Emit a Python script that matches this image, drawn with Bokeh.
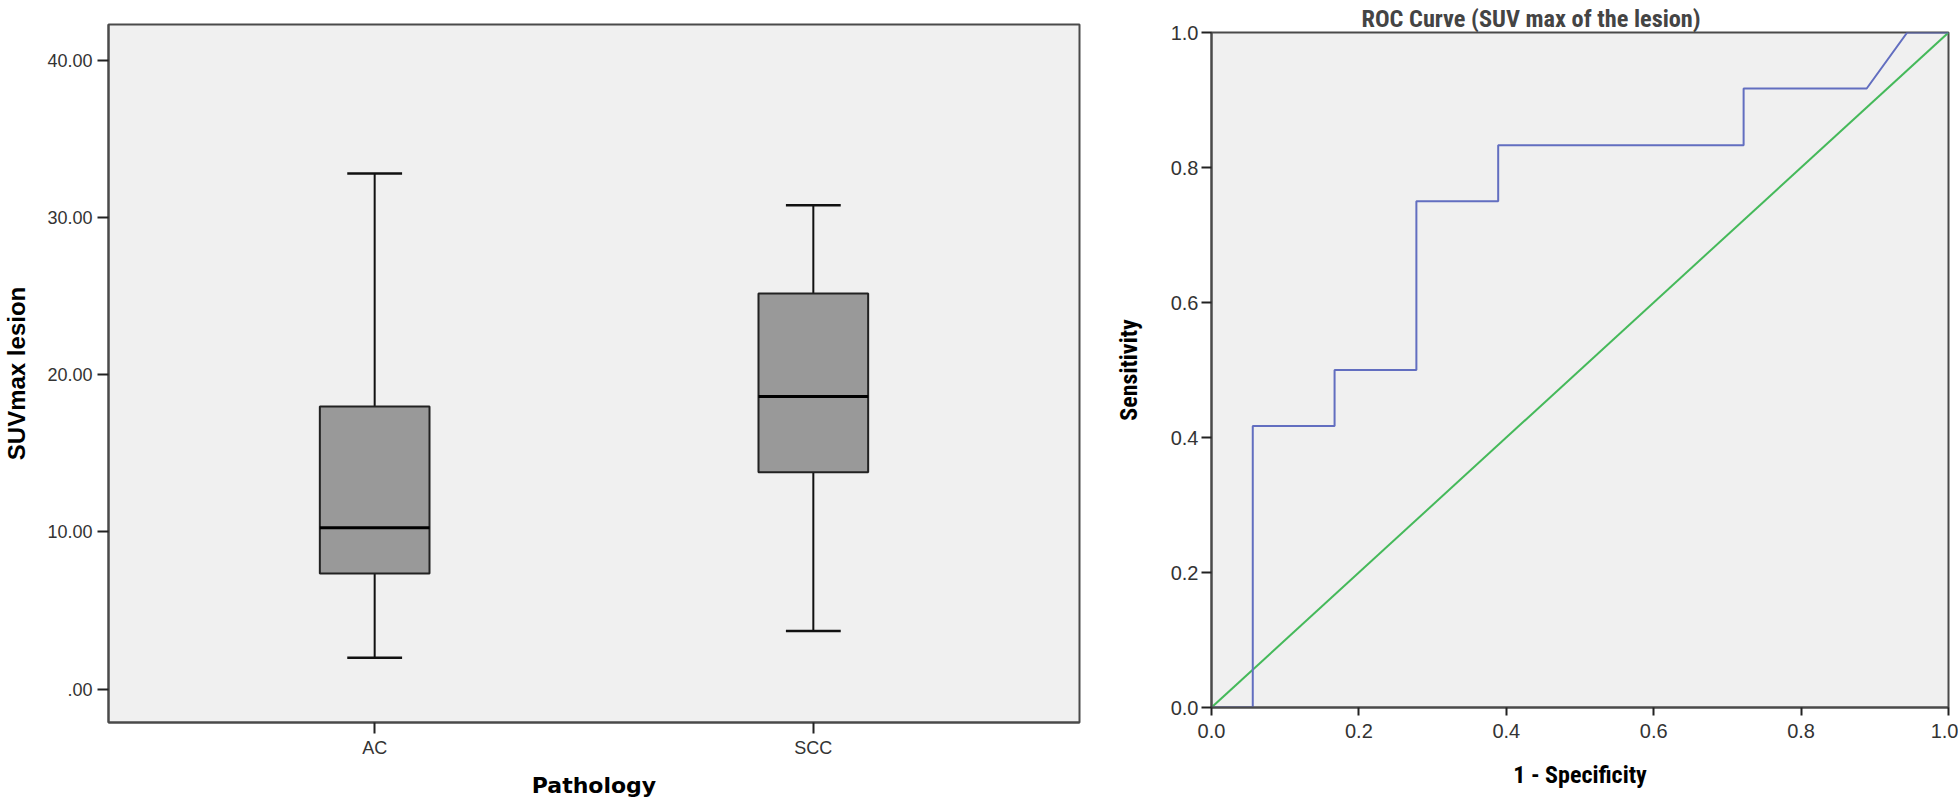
import numpy as np
from bokeh.plotting import figure
from bokeh.models import Range1d, FixedTicker, PrintfTickFormatter
from bokeh.embed import file_html
from bokeh.resources import INLINE

# ---------------- data ----------------
categories = ["AC", "SCC"]
whisker_low = [2.0, 3.7]
q1 = [7.35, 13.8]
median = [10.27, 18.62]
q3 = [17.97, 25.17]
whisker_high = [32.8, 30.77]
y_ticks = [0, 10, 20, 30, 40]
y_tick_labels = [".00", "10.00", "20.00", "30.00", "40.00"]

roc_fpr = [0.0, 0.056, 0.056, 0.167, 0.167, 0.278, 0.278, 0.389, 0.389, 0.722, 0.722, 0.889, 0.944, 1.0]
roc_tpr = [0.0, 0.0, 0.417, 0.417, 0.5, 0.5, 0.75, 0.75, 0.833, 0.833, 0.917, 0.917, 1.0, 1.0]
ref_x = [0.0, 1.0]
ref_y = [0.0, 1.0]
roc_ticks = [0.0, 0.2, 0.4, 0.6, 0.8, 1.0]

BG = "#f0f0f0"
FRAME = "#4a4a4a"
TICK_FONT = "Liberation Sans"
NARROW = "Roboto Condensed, DejaVu Sans Condensed, Roboto, sans-serif"

# ---------------- box plot ----------------
p1 = figure(width=1092, height=800, output_backend="svg", toolbar_location=None,
            x_range=Range1d(0.3932, 2.6068), y_range=Range1d(-2.12, 42.27),
            min_border_left=105, min_border_right=13, min_border_top=24, min_border_bottom=75)
p1.styles = {"position": "absolute", "left": "0px", "top": "0px"}
p1.background_fill_color = BG
p1.border_fill_color = "white"
p1.outline_line_color = FRAME
p1.outline_line_width = 2
p1.grid.visible = False

xs = np.arange(1, len(categories) + 1)
p1.segment(x0=xs, y0=q3, x1=xs, y1=whisker_high, line_color="#111111", line_width=2)
p1.segment(x0=xs, y0=q1, x1=xs, y1=whisker_low, line_color="#111111", line_width=2)
p1.segment(x0=xs - 0.0625, y0=whisker_high, x1=xs + 0.0625, y1=whisker_high, line_color="#111111", line_width=2.5)
p1.segment(x0=xs - 0.0625, y0=whisker_low, x1=xs + 0.0625, y1=whisker_low, line_color="#111111", line_width=2.5)
p1.vbar(x=xs, width=0.25, bottom=q1, top=q3, fill_color="#999999", line_color="#222222", line_width=2)
p1.segment(x0=xs - 0.125, y0=median, x1=xs + 0.125, y1=median, line_color="#000000", line_width=3)

p1.yaxis.ticker = FixedTicker(ticks=y_ticks)
p1.yaxis.major_label_overrides = {t: l for t, l in zip(y_ticks, y_tick_labels)}
p1.xaxis.ticker = FixedTicker(ticks=list(xs))
p1.xaxis.major_label_overrides = {int(x): c for x, c in zip(xs, categories)}
for ax in (p1.xaxis[0], p1.yaxis[0]):
    ax.minor_tick_line_color = None
    ax.major_tick_in = 0
    ax.major_tick_out = 11
    ax.major_tick_line_color = "#222222"
    ax.major_tick_line_width = 2
    ax.axis_line_color = FRAME
    ax.axis_line_width = 2
    ax.major_label_text_font = TICK_FONT
    ax.major_label_text_font_size = "18px"
    ax.major_label_text_color = "#333333"
    ax.axis_label_text_color = "#000000"
p1.yaxis.major_label_standoff = 5
p1.yaxis.axis_label = "SUVmax lesion"
p1.yaxis.axis_label_text_font = "Liberation Sans"
p1.yaxis.axis_label_text_font_style = "bold"
p1.yaxis.axis_label_text_font_size = "24px"
p1.yaxis.axis_label_standoff = 14
p1.xaxis.major_label_standoff = 4
p1.xaxis.axis_label = "Pathology"
p1.xaxis.axis_label_text_font = "DejaVu Sans"
p1.xaxis.axis_label_text_font_style = "bold"
p1.xaxis.axis_label_text_font_size = "22px"
p1.xaxis.axis_label_standoff = 12

# ---------------- ROC curve ----------------
p2 = figure(width=866, height=800, output_backend="svg", toolbar_location=None,
            x_range=Range1d(0, 1), y_range=Range1d(0, 1),
            min_border_left=119, min_border_right=10, min_border_top=32, min_border_bottom=93)
p2.styles = {"position": "absolute", "left": "1092px", "top": "0px"}
p2.background_fill_color = BG
p2.border_fill_color = "white"
p2.outline_line_color = FRAME
p2.outline_line_width = 2
p2.grid.visible = False

p2.line(ref_x, ref_y, line_color="#45b95a", line_width=2)
p2.line(roc_fpr, roc_tpr, line_color="#626ec0", line_width=2)

for ax in (p2.xaxis[0], p2.yaxis[0]):
    ax.ticker = FixedTicker(ticks=roc_ticks)
    ax.formatter = PrintfTickFormatter(format="%.1f")
    ax.minor_tick_line_color = None
    ax.major_tick_in = 0
    ax.major_tick_line_color = "#222222"
    ax.major_tick_line_width = 2
    ax.axis_line_color = FRAME
    ax.axis_line_width = 2
    ax.major_label_text_font = TICK_FONT
    ax.major_label_text_font_size = "20px"
    ax.major_label_text_color = "#333333"
    ax.axis_label_text_font = NARROW
    ax.axis_label_text_font_style = "bold"
    ax.axis_label_text_font_size = "24px"
    ax.axis_label_text_color = "#000000"
p2.yaxis.major_tick_out = 10
p2.yaxis.major_label_standoff = 3
p2.yaxis.axis_label = "Sensitivity"
p2.yaxis.axis_label_standoff = 25
p2.xaxis.major_tick_out = 8
p2.xaxis.major_label_standoff = 8
p2.xaxis.axis_label = "1 - Specificity"
p2.xaxis.axis_label_standoff = 20

p2.title.text = "ROC Curve (SUV max of the lesion)"
p2.title.text_font = NARROW
p2.title.text_font_style = "bold"
p2.title.text_font_size = "24.3px"
p2.title.align = "left"
p2.title.offset = 150
p2.title.standoff = 0

open("out.html", "w").write(file_html([p1, p2], INLINE))
